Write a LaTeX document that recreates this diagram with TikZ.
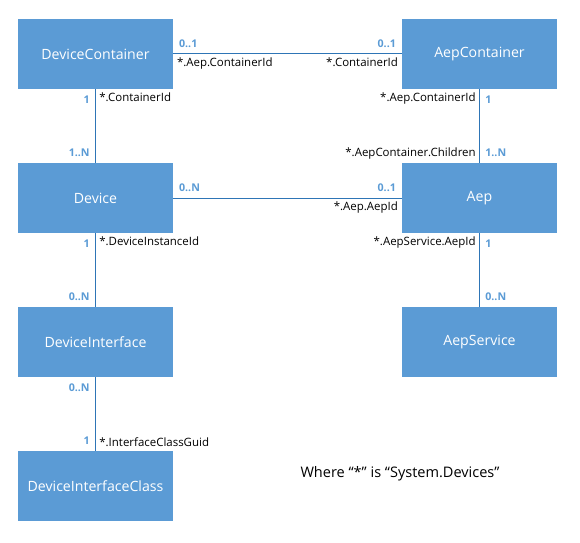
\documentclass[tikz,border=0pt]{standalone}
\usepackage{fontspec}
\setmainfont{Open Sans}
\usetikzlibrary{positioning}

\definecolor{boxblue}{HTML}{5B9BD5}
\definecolor{lineblue}{HTML}{2E75B6}

\tikzset{
    entity/.style={fill=boxblue, text=white, minimum width=116.25pt, minimum height=52.5pt,
        inner sep=0pt, font=\fontsize{10.6}{12}\selectfont},
    link/.style={draw=lineblue, line width=0.75pt},
    mult/.style={text=boxblue, font=\fontsize{8}{9}\selectfont\bfseries, inner xsep=4pt, inner ysep=4.5pt},
    key/.style={text=black, font=\fontsize{8.6}{10}\selectfont, inner sep=2.5pt}
}

\begin{document}
\begin{tikzpicture}[x=0.75pt, y=-0.75pt]
    \useasboundingbox (0,0) rectangle (580,542);

    % Define the entities, left column
    \node[entity] (dc)  at (95.5,54)  {DeviceContainer};
    \node[entity] (dev) at (95.5,198) {Device};
    \node[entity] (di)  at (95.5,342) {DeviceInterface};
    \node[entity] (dic) at (95.5,486) {DeviceInterfaceClass};

    % Right column
    \node[entity] (ac)  at (479.5,54)  {AepContainer};
    \node[entity] (aep) at (479.5,198) {Aep};
    \node[entity] (as)  at (479.5,342) {AepService};

    % Horizontal links
    \draw[link] (dc) -- (ac)
        node[pos=0, mult, above right] {0..1}
        node[pos=0, key, below right] {*.Aep.ContainerId}
        node[pos=1, mult, above left] {0..1}
        node[pos=1, key, below left] {*.ContainerId};
    \draw[link] (dev) -- (aep)
        node[pos=0, mult, above right] {0..N}
        node[pos=1, mult, above left] {0..1}
        node[pos=1, key, below left] {*.Aep.AepId};

    % Vertical links, left column
    \draw[link] (dc) -- (dev)
        node[pos=0, mult, below left] {1}
        node[pos=0, key, below right] {*.ContainerId}
        node[pos=1, mult, above left] {1..N};
    \draw[link] (dev) -- (di)
        node[pos=0, mult, below left] {1}
        node[pos=0, key, below right] {*.DeviceInstanceId}
        node[pos=1, mult, above left] {0..N};
    \draw[link] (di) -- (dic)
        node[pos=0, mult, below left] {0..N}
        node[pos=1, mult, above left] {1}
        node[pos=1, key, above right] {*.InterfaceClassGuid};

    % Vertical links, right column
    \draw[link] (ac) -- (aep)
        node[pos=0, mult, below right] {1}
        node[pos=0, key, below left] {*.Aep.ContainerId}
        node[pos=1, mult, above right] {1..N}
        node[pos=1, key, above left] {*.AepContainer.Children};
    \draw[link] (aep) -- (as)
        node[pos=0, mult, below right] {1}
        node[pos=0, key, below left] {*.AepService.AepId}
        node[pos=1, mult, above right] {0..N};

    % Note
    \node[font=\fontsize{10.9}{12}\selectfont] (note) at (400,474) {Where “*” is “System.Devices”};
\end{tikzpicture}
\end{document}
